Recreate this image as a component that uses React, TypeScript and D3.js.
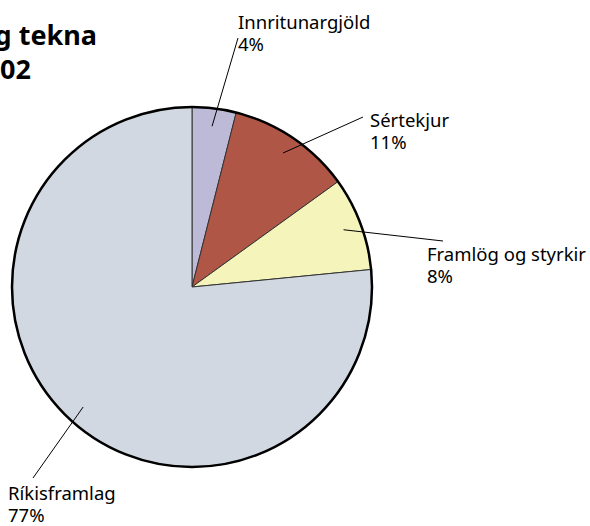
import React, { useEffect, useRef } from "react";
import * as d3 from "d3";

const categories = ["Innritunargjöld", "Sértekjur", "Framlög og styrkir", "Ríkisframlag"];
const values = [3.95, 11.1, 8.4, 76.55];
const percentLabels = ["4%", "11%", "8%", "77%"];
const colors = ["#bcbad6", "#b05646", "#f5f5bb", "#d1d8e1"];

// label anchor (text start) and leader end for each slice
const labelPos = [
  { x: 238, y: 29, lx: 238, ly: 38 },
  { x: 370, y: 127, lx: 363, ly: 117 },
  { x: 427, y: 261, lx: 443, ly: 241 },
  { x: 8, y: 500, lx: 33, ly: 478 },
];

function App() {
  const svgRef: any = useRef(null);

  useEffect(() => {
    draw();
  }, []);

  const draw = () => {
    const svg = d3.select(svgRef.current);
    svg.selectAll("*").remove();

    const cx = 192;
    const cy = 287;
    const r = 180;
    const font = "'Noto Sans', sans-serif";

    // title (cut off on the left)
    svg
      .append("text")
      .attr("x", 97)
      .attr("y", 45)
      .attr("text-anchor", "end")
      .attr("font-family", font)
      .attr("font-weight", "bold")
      .attr("font-size", 27)
      .attr("fill", "#000")
      .text("Skipting tekna");
    svg
      .append("text")
      .attr("x", 31)
      .attr("y", 79)
      .attr("text-anchor", "end")
      .attr("font-family", font)
      .attr("font-weight", "bold")
      .attr("font-size", 27)
      .attr("fill", "#000")
      .text("2002");

    const pie = d3.pie<number>().sort(null)(values);
    const arc = d3.arc<any>().innerRadius(0).outerRadius(r);

    const g = svg.append("g").attr("transform", `translate(${cx}, ${cy})`);

    g.selectAll("path.slice")
      .data(pie)
      .enter()
      .append("path")
      .attr("class", "slice")
      .attr("d", arc)
      .attr("fill", (d, i) => colors[i])
      .attr("stroke", "#333")
      .attr("stroke-width", 1);

    g.append("circle")
      .attr("r", r)
      .attr("fill", "none")
      .attr("stroke", "#000")
      .attr("stroke-width", 2.5);

    // leader lines from inside each slice
    const inner = d3.arc<any>().innerRadius(r * 0.9).outerRadius(r * 0.9);
    pie.forEach((d, i) => {
      const [px, py] = inner.centroid(d);
      svg
        .append("line")
        .attr("x1", cx + px)
        .attr("y1", cy + py)
        .attr("x2", labelPos[i].lx)
        .attr("y2", labelPos[i].ly)
        .attr("stroke", "#000")
        .attr("stroke-width", 1);

      const t = svg
        .append("text")
        .attr("font-family", font)
        .attr("font-size", 18.5)
        .attr("fill", "#000");
      t.append("tspan").attr("x", labelPos[i].x).attr("y", labelPos[i].y).text(categories[i]);
      t.append("tspan")
        .attr("x", labelPos[i].x)
        .attr("y", labelPos[i].y + 22)
        .text(percentLabels[i]);
    });
  };

  return (
    <div style={{ position: "absolute", left: 0, top: 0 }}>
      <svg ref={svgRef} width={590} height={526} style={{ display: "block", background: "#fff" }} />
    </div>
  );
}

export default App;
